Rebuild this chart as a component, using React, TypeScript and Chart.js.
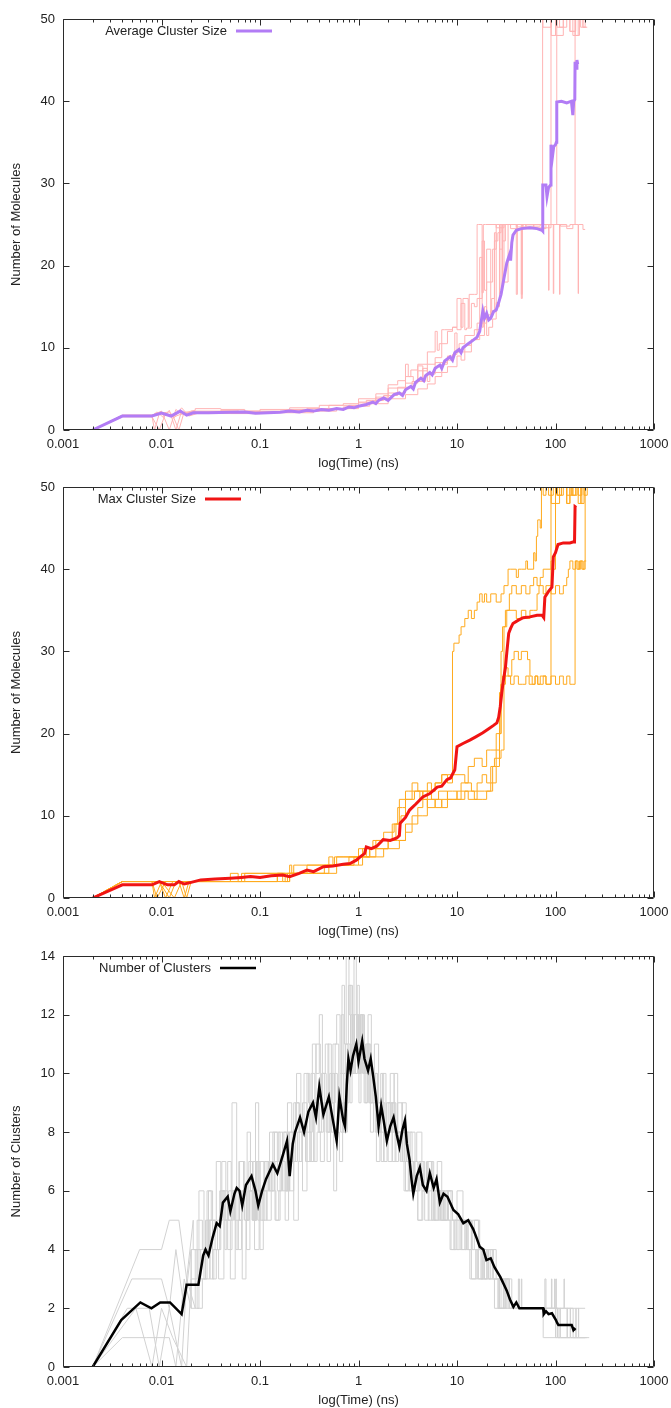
import React, { useEffect, useRef } from "react";
import { Chart, registerables } from "chart.js";

Chart.register(...registerables);

const FONT = "'Liberation Sans', Arial, sans-serif";

// ---------- axes ----------
const xTickValues = [0.001, 0.01, 0.1, 1, 10, 100, 1000];
const xTickLabels = ["0.001", "0.01", "0.1", "1", "10", "100", "1000"];
const sizeTicks = [0, 10, 20, 30, 40, 50];
const clusterTicks = [0, 2, 4, 6, 8, 10, 12, 14];

// ---------- panel 1 : average cluster size ----------
const avgSizeMean = [
  [0.002, 0], [0.004, 1.7], [0.008, 1.7], [0.01, 2.05], [0.0125, 1.7], [0.0155, 2.3], [0.018, 1.8], [0.021, 2.1],
  [0.03, 2.1], [0.05, 2.15], [0.07, 2.2], [0.09, 2.05], [0.12, 2.1], [0.16, 2.15], [0.2, 2.3], [0.25, 2.2],
  [0.3, 2.4], [0.35, 2.3], [0.42, 2.5], [0.5, 2.4], [0.6, 2.6], [0.7, 2.5], [0.8, 2.8], [0.9, 2.7], [1.0, 2.9],
  [1.2, 3.1], [1.4, 3.4], [1.5, 3.2], [1.6, 3.6], [1.8, 3.9], [2.0, 3.6], [2.3, 4.3], [2.6, 4.5], [2.8, 4.2],
  [3.0, 4.9], [3.4, 5.3], [3.6, 5.0], [3.8, 5.8], [4.3, 6.3], [4.6, 6.0], [4.8, 6.6], [5.3, 7.0], [5.6, 6.7],
  [6.0, 7.5], [6.7, 7.9], [7.0, 7.5], [7.5, 8.4], [8.5, 8.9], [9.0, 8.5], [9.5, 9.4], [10.5, 9.8], [11, 9.4],
  [11.5, 10.0], [13, 10.5], [14.5, 10.9], [16, 11.3], [17, 12.0], [17.7, 13.4], [18.3, 14.5], [19, 13.6],
  [20, 14.2], [21, 13.4], [22, 13.6], [23.5, 14.4], [25, 14.6], [26.5, 15.5], [28, 16.5], [30, 18.5], [32, 20.3],
  [33, 20.8], [34.5, 21.5], [35, 20.6], [36, 22.8], [37, 23.7], [40, 24.3], [45, 24.5], [55, 24.6], [65, 24.5],
  [73, 24.3], [74, 24.2], [74.5, 29.8], [80, 29.8], [82, 28.4], [85, 29.5], [89, 29.8], [90, 34.7], [93, 33.2],
  [96, 34.5], [100, 34.7], [102, 35], [103, 39.9], [115, 40], [130, 39.8], [145, 40], [150, 38.3], [153, 40],
  [157, 40.2], [158, 44.8], [162, 44], [165, 45], [168, 44.5],
];
const avgSizeRun1 = [
  [0.002, 0], [0.004, 1.8], [0.008, 1.8], [0.01, 2.3], [0.012, 0], [0.014, 2.5], [0.016, 1.9], [0.02, 2.2],
  [0.04, 2.2], [0.06, 2.4], [0.1, 2.3], [0.2, 2.5], [0.4, 2.7], [0.7, 3.0], [1, 3.2], [1.5, 3.8], [2, 4.4],
  [2.5, 5.5], [3, 6.0], [3.2, 8], [3.4, 6.5], [4, 7.3], [5, 8], [6, 9.5], [6.3, 12], [6.6, 9.7], [8, 10.5],
  [9, 12], [10, 12.5], [11, 16], [11.5, 12.5], [13, 16], [13.3, 12.5], [15, 16.5], [16, 16.5], [16.5, 25],
  [18, 25], [18.5, 16.7], [19.5, 25], [25, 25], [30, 24.6], [40, 25], [50, 24.7], [60, 25], [74, 25], [74.5, 50],
  [90, 49], [100, 50], [120, 48], [140, 50], [160, 48.5], [180, 50], [200, 49], [210, 50],
];
const avgSizeRun2 = [
  [0.002, 0], [0.004, 1.6], [0.008, 1.6], [0.0095, 0], [0.011, 2.0], [0.0135, 1.5], [0.016, 2.7], [0.018, 2.0],
  [0.022, 2.3], [0.05, 2.1], [0.1, 2.0], [0.2, 2.1], [0.4, 2.3], [0.8, 2.6], [1.2, 3.0], [1.8, 3.6], [2.5, 4.2],
  [3.5, 5.2], [4.5, 5.9], [5, 7.5], [5.3, 5.9], [7, 7], [8, 8], [9, 8.5], [10, 9.2], [12, 9.5], [14, 10.3],
  [17, 11], [19, 11.5], [20, 15], [21, 11.5], [23, 12.5], [25, 13.5], [27, 15.5], [28, 25], [29, 17], [30, 25],
  [33, 18], [34, 25], [45, 25], [46, 16.5], [47, 25], [60, 24.5], [75, 25], [90, 25], [90.5, 50], [100, 48],
  [110, 50], [130, 49], [150, 50], [170, 48], [190, 50], [205, 49],
];
const avgSizeRun3 = [
  [0.002, 0], [0.004, 1.8], [0.008, 1.8], [0.01, 2.1], [0.013, 1.8], [0.015, 0], [0.017, 2.2], [0.02, 2.1],
  [0.05, 2.3], [0.1, 2.2], [0.2, 2.2], [0.3, 2.5], [0.5, 2.6], [0.8, 3.0], [1, 3.0], [1.5, 3.3], [2, 4.0],
  [3, 4.5], [4, 5.7], [4.5, 7.8], [4.8, 5.9], [6, 6.8], [8, 8.2], [9.5, 9.0], [10, 11.8], [10.5, 9.5], [12, 10.5],
  [15, 11.5], [17, 12.2], [18, 21], [18.5, 12.5], [20, 13.5], [22, 22], [22.5, 14], [24, 16], [26, 23], [28, 24],
  [32, 25], [50, 25], [70, 24.8], [85, 25], [86, 17], [87, 25], [103, 25], [103.5, 50], [120, 49], [140, 50],
  [160, 48.5], [180, 50], [195, 50],
];
const avgSizeRun4 = [
  [0.002, 0], [0.004, 1.7], [0.008, 1.7], [0.009, 2.2], [0.0105, 1.5], [0.012, 2.4], [0.014, 0], [0.016, 2.3],
  [0.019, 1.7], [0.023, 2.0], [0.05, 2.0], [0.1, 2.0], [0.2, 2.2], [0.35, 2.1], [0.6, 2.3], [1, 2.6], [1.3, 2.9],
  [2, 3.2], [3, 3.8], [4, 4.3], [5, 5.0], [6, 5.6], [7, 6.5], [8, 7.0], [10, 7.7], [11, 9], [12, 8.5], [14, 9.5],
  [16, 11], [20, 13], [22, 14], [24, 14.5], [25, 24], [27, 15], [29, 22], [31, 23], [35, 25], [45, 24.5],
  [46, 16], [47, 25], [60, 25], [90, 24.6], [110, 25], [111, 16.5], [112, 25], [140, 24.8], [158, 25],
  [158.5, 50], [175, 48], [190, 50], [210, 49],
];
const avgSizeRun5 = [
  [0.002, 0], [0.004, 1.7], [0.008, 1.7], [0.0085, 0], [0.0095, 2.0], [0.012, 2.2], [0.0135, 1.6], [0.017, 2.1],
  [0.022, 2.4], [0.04, 2.6], [0.07, 2.5], [0.1, 2.3], [0.2, 2.3], [0.4, 2.4], [0.7, 2.6], [1, 2.8], [1.5, 3.4],
  [2, 3.8], [3, 5.1], [3.6, 6.5], [4, 5.9], [5, 7.2], [6, 8.0], [7, 8.8], [7.5, 12.2], [9, 12.2], [10, 12.5],
  [11, 12.2], [12, 15.4], [12.5, 12.2], [14, 12.4], [15, 15.4], [16, 15], [18, 16], [19, 23], [20, 17], [23, 18],
  [25, 22], [27, 25], [40, 25], [41, 16.5], [42, 25], [60, 25], [80, 24.5], [95, 25], [96, 16.6], [97, 25],
  [130, 25], [150, 24.5], [170, 25], [171, 16.6], [172, 25], [190, 25], [200, 24.4],
];

// ---------- panel 2 : max cluster size ----------
const maxSizeMean = [
  [0.002, 0], [0.004, 1.6], [0.008, 1.6], [0.0095, 2.0], [0.0115, 1.6], [0.0135, 1.6], [0.015, 2.0], [0.017, 1.7],
  [0.02, 1.9], [0.025, 2.2], [0.035, 2.3], [0.05, 2.4], [0.065, 2.5], [0.08, 2.6], [0.1, 2.5], [0.13, 2.7],
  [0.17, 2.8], [0.2, 2.6], [0.25, 3.0], [0.3, 3.4], [0.35, 3.2], [0.44, 3.8], [0.55, 3.9], [0.7, 4.1], [0.82, 4.2],
  [0.95, 4.6], [1.04, 5.0], [1.15, 5.4], [1.2, 6.2], [1.35, 6.0], [1.53, 6.3], [1.78, 7.1], [2.1, 7.0],
  [2.45, 7.3], [2.6, 7.6], [2.65, 9.1], [3.0, 9.8], [3.3, 10.7], [3.8, 11.4], [4.5, 12.3], [5.3, 12.7],
  [6.3, 13.5], [7, 13.6], [7.9, 14.4], [8.6, 14.6], [9.5, 15.6], [10, 18.4], [11.5, 18.8], [13.5, 19.2],
  [15.5, 19.6], [18.3, 20.1], [21, 20.6], [23.5, 21.0], [25.4, 21.3], [26.5, 22], [27.5, 23.3], [28.5, 25],
  [29.6, 26.5], [31, 28], [32, 29.8], [33.5, 32.2], [35, 32.8], [37, 33.4], [42, 33.8], [47, 34.1], [55, 34.2],
  [65, 34.4], [73, 34.4], [76, 34.1], [78, 36.6], [85, 37.3], [92, 37.8], [95, 41.5], [100, 42], [106, 43],
  [120, 43.2], [140, 43.2], [150, 43.3], [156, 43.3], [158, 47.6], [162, 47.5],
];
const maxSizeRun1 = [
  [0.002, 0], [0.004, 2], [0.008, 2], [0.0095, 2], [0.012, 0], [0.014, 2], [0.02, 2], [0.05, 2], [0.06, 3],
  [0.065, 2], [0.08, 3], [0.15, 3], [0.2, 3], [0.21, 4], [0.22, 3], [0.3, 4], [0.5, 4], [0.55, 5], [0.57, 4],
  [0.7, 5], [1, 5], [1.2, 6], [1.3, 5], [1.4, 6], [1.8, 7], [2.2, 7], [2.5, 9], [2.8, 11], [3, 11], [3.2, 13],
  [3.5, 13], [4, 14], [4.2, 13], [5, 13], [5.5, 14], [6, 13], [7, 14], [8, 15], [9, 15], [9.3, 30], [10.5, 31],
  [11, 32], [12, 33], [13, 34], [14, 35], [15, 34], [16, 35], [17, 36], [18, 37], [19, 36], [20, 37], [22, 36],
  [25, 37], [28, 36], [30, 37], [33, 38], [35, 40], [40, 40], [42, 39], [45, 40], [50, 40], [52, 41], [55, 40],
  [60, 40], [62, 42], [64, 41], [66, 44], [70, 46], [72, 45], [75, 50], [80, 49], [85, 50], [95, 49], [100, 50],
  [110, 48], [115, 50], [120, 49], [130, 50], [140, 48], [145, 50], [160, 49], [170, 50], [185, 48], [195, 50],
  [210, 49], [220, 50],
];
const maxSizeRun2 = [
  [0.002, 0], [0.004, 2], [0.008, 2], [0.009, 0], [0.011, 2], [0.02, 2], [0.04, 2], [0.07, 2], [0.1, 2],
  [0.15, 2], [0.18, 3], [0.2, 2], [0.22, 3], [0.4, 3], [0.6, 3], [0.65, 4], [0.8, 4], [1, 5], [1.1, 4],
  [1.5, 5], [2, 6], [2.6, 6], [3, 7], [3.5, 8], [4, 9], [4.5, 10], [5, 10], [6, 12], [7, 11], [8, 12], [9, 13],
  [10, 13], [11, 12], [12, 14], [14, 14], [16, 13], [18, 14], [20, 15], [22, 14], [24, 16], [26, 17], [28, 17],
  [30, 18], [31, 26], [35, 27], [38, 26], [42, 27], [46, 26], [50, 26], [54, 27], [58, 26], [62, 26], [66, 27],
  [70, 26], [75, 26], [80, 27], [85, 26], [90, 26], [90.5, 50], [100, 48], [105, 50], [115, 49], [130, 50],
  [140, 48], [150, 50], [165, 49], [180, 50], [195, 48], [210, 50],
];
const maxSizeRun3 = [
  [0.002, 0], [0.004, 2], [0.008, 2], [0.0095, 2], [0.011, 0], [0.013, 2], [0.016, 2], [0.018, 0], [0.02, 2],
  [0.05, 2], [0.1, 2], [0.15, 2], [0.17, 3], [0.19, 2], [0.2, 3], [0.35, 3], [0.5, 3], [0.6, 4], [0.9, 4],
  [1, 5], [1.3, 5], [1.5, 6], [2, 6], [2.4, 7], [2.7, 9], [3, 10], [3.7, 12], [4.2, 13], [4.5, 12], [5.5, 13],
  [6.5, 12], [8, 13], [10, 12], [11, 13], [13, 13], [16, 12], [19, 13], [23, 13], [25, 16], [27, 18], [28, 25],
  [29, 30], [31, 33], [33, 35], [40, 35], [45, 34], [50, 35], [55, 34], [60, 35], [65, 35], [68, 37], [75, 38],
  [80, 37], [90, 38], [100, 37], [110, 38], [120, 37], [130, 38], [135, 39], [140, 40], [150, 41], [160, 40],
  [170, 41], [180, 40], [190, 41], [200, 40], [205, 50], [215, 50],
];
const maxSizeRun4 = [
  [0.002, 0], [0.004, 2], [0.008, 2], [0.01, 2], [0.0135, 0], [0.016, 2], [0.02, 2], [0.03, 2], [0.07, 2],
  [0.1, 3], [0.15, 3], [0.2, 3], [0.3, 3], [0.4, 4], [0.6, 4], [0.8, 5], [1.1, 5], [1.5, 6], [1.8, 7], [2.3, 8],
  [2.6, 9], [3, 12], [3.5, 12], [4.5, 13], [5, 12], [6, 13], [7, 14], [8, 15], [9, 14], [10, 15], [12, 15],
  [13, 14], [15, 16], [18, 17], [20, 16], [22, 18], [25, 18], [28, 20], [30, 26], [32, 33], [34, 35], [36, 37],
  [40, 38], [45, 37], [50, 38], [55, 37], [60, 38], [65, 39], [70, 38], [75, 39], [80, 40], [90, 40], [95, 41],
  [100, 40], [103, 50], [115, 49], [130, 50], [150, 49], [170, 50], [185, 49], [200, 50],
];
const maxSizeRun5 = [
  [0.002, 0], [0.004, 2], [0.008, 2], [0.0085, 0], [0.01, 2], [0.015, 2], [0.017, 0], [0.019, 2], [0.03, 2],
  [0.06, 2], [0.1, 2], [0.17, 2], [0.2, 2], [0.25, 3], [0.3, 3], [0.45, 3], [0.5, 4], [0.7, 4], [1, 4],
  [1.2, 5], [1.8, 5], [2, 6], [2.5, 7], [3, 7], [3.5, 9], [4, 10], [4.5, 11], [5, 12], [6, 11], [7, 12],
  [8, 11], [9, 12], [12, 12], [15, 13], [18, 12], [20, 12], [22, 13], [25, 14], [27, 16], [28, 20], [29, 26],
  [31, 27], [33, 28], [36, 27], [38, 29], [42, 30], [45, 29], [48, 30], [52, 30], [55, 29], [58, 27], [62, 26],
  [66, 27], [70, 26], [80, 27], [90, 26], [100, 27], [110, 26], [120, 27], [130, 26], [140, 27], [150, 26],
  [158, 26], [158.5, 40], [165, 41], [175, 40], [185, 41], [195, 40], [205, 41],
];

// ---------- panel 3 : number of clusters ----------
const clustersMean = [
  [0.002, 0], [0.0039, 1.6], [0.0061, 2.2], [0.0079, 2.0], [0.0097, 2.2], [0.0122, 2.2], [0.016, 1.8],
  [0.018, 2.8], [0.0237, 2.8], [0.0265, 3.8], [0.028, 4.0], [0.03, 3.8], [0.033, 4.4], [0.0363, 4.9],
  [0.039, 4.8], [0.042, 5.6], [0.047, 5.8], [0.05, 5.3], [0.055, 5.9], [0.058, 6.1], [0.062, 6.0], [0.066, 5.5],
  [0.072, 6.2], [0.082, 6.5], [0.09, 6.0], [0.096, 5.5], [0.105, 6.0], [0.115, 6.4], [0.135, 6.9], [0.15, 6.6],
  [0.17, 7.2], [0.188, 7.7], [0.2, 6.5], [0.215, 7.6], [0.227, 8.0], [0.255, 8.5], [0.28, 8.0], [0.31, 8.7],
  [0.345, 9.0], [0.37, 8.5], [0.4, 9.55], [0.44, 8.6], [0.5, 9.2], [0.55, 8.4], [0.6, 7.7], [0.64, 9.2],
  [0.7, 8.4], [0.73, 8.2], [0.76, 9.6], [0.79, 10.5], [0.83, 10.1], [0.88, 10.6], [0.95, 11.0], [1.0, 10.4],
  [1.05, 10.8], [1.09, 11.1], [1.15, 10.5], [1.25, 10.1], [1.33, 10.5], [1.41, 9.9], [1.5, 9.2], [1.6, 8.2],
  [1.7, 8.9], [1.8, 8.4], [1.94, 7.7], [2.1, 8.2], [2.27, 8.5], [2.45, 7.9], [2.6, 7.5], [2.8, 8.1], [2.96, 8.4],
  [3.1, 7.6], [3.3, 7.05], [3.45, 6.4], [3.6, 5.9], [3.9, 6.5], [4.2, 6.8], [4.5, 6.2], [4.9, 6.0], [5.3, 6.6],
  [5.8, 6.1], [6.2, 6.4], [6.7, 5.6], [7.3, 5.9], [8, 5.8], [9.2, 5.35], [10.3, 5.2], [11.6, 4.9], [13, 5.0],
  [14.6, 4.7], [15.8, 4.4], [17, 4.1], [18.5, 4.0], [19.9, 3.64], [22, 3.7], [24, 3.4], [27.5, 3.07], [30, 2.8],
  [32, 2.6], [34.5, 2.3], [37.4, 2.05], [40, 2.2], [43, 2.0], [75, 2.0], [76, 1.8], [80, 1.9], [85, 1.8],
  [92, 1.83], [101, 1.6], [104, 1.5], [107, 1.43], [146, 1.43], [152, 1.26], [155, 1.3], [160, 1.26],
];
const clustersRun1 = [
  [0.002, 0], [0.006, 4], [0.01, 4], [0.012, 5], [0.015, 5], [0.018, 3], [0.021, 5], [0.024, 4], [0.027, 6],
  [0.029, 4], [0.032, 6], [0.036, 5], [0.04, 7], [0.042, 5], [0.047, 6], [0.052, 5], [0.058, 9], [0.061, 6],
  [0.07, 7], [0.075, 5], [0.085, 6], [0.095, 7], [0.1, 5], [0.11, 7], [0.125, 6], [0.14, 8], [0.155, 7],
  [0.17, 8], [0.19, 6], [0.21, 9], [0.235, 8], [0.26, 10], [0.28, 8], [0.31, 10], [0.34, 9], [0.37, 11],
  [0.4, 10], [0.43, 12], [0.46, 10], [0.5, 11], [0.55, 9], [0.6, 11], [0.65, 12], [0.68, 10], [0.72, 13],
  [0.75, 11], [0.8, 14], [0.82, 12], [0.87, 13], [0.9, 11], [0.95, 14], [0.97, 12], [1.02, 13], [1.08, 11],
  [1.15, 12], [1.25, 10], [1.35, 12], [1.45, 10], [1.6, 11], [1.75, 9], [1.9, 10], [2.1, 8], [2.3, 10],
  [2.5, 8], [2.8, 9], [3.1, 7], [3.5, 8], [3.9, 7], [4.4, 8], [5, 6], [5.6, 7], [6.3, 6], [7, 7], [8, 5],
  [9, 6], [10, 5], [11.5, 6], [13, 5], [15, 4], [17, 5], [19, 4], [22, 3], [25, 4], [28, 3], [31, 2], [34, 3],
  [38, 2], [45, 2], [78, 2], [80, 3], [81, 2], [98, 2], [99, 3], [100, 2], [122, 2], [123, 3], [124, 2],
  [200, 2],
];
const clustersRun2 = [
  [0.002, 0], [0.005, 3], [0.01, 3], [0.012, 2], [0.014, 4], [0.017, 2], [0.02, 4], [0.023, 3], [0.026, 5],
  [0.03, 4], [0.033, 6], [0.037, 4], [0.041, 5], [0.045, 7], [0.048, 5], [0.055, 6], [0.062, 5], [0.068, 7],
  [0.074, 6], [0.08, 8], [0.083, 6], [0.092, 5], [0.1, 7], [0.11, 6], [0.125, 7], [0.14, 6], [0.16, 8],
  [0.175, 7], [0.2, 8], [0.22, 6], [0.25, 9], [0.27, 8], [0.3, 9], [0.33, 7], [0.36, 10], [0.39, 9], [0.42, 8],
  [0.45, 10], [0.49, 9], [0.53, 11], [0.57, 8], [0.61, 10], [0.65, 9], [0.7, 10], [0.74, 8], [0.78, 11],
  [0.83, 10], [0.88, 12], [0.93, 10], [1.0, 11], [1.05, 10], [1.12, 12], [1.2, 10], [1.3, 11], [1.4, 9],
  [1.55, 10], [1.7, 8], [1.85, 9], [2.0, 8], [2.2, 9], [2.4, 7], [2.7, 8], [3.0, 7], [3.3, 6], [3.7, 7],
  [4.1, 6], [4.7, 7], [5.2, 5], [5.9, 6], [6.6, 5], [7.5, 6], [8.5, 5], [9.5, 4], [11, 5], [12.5, 4], [14, 5],
  [16, 4], [18, 3], [21, 4], [24, 3], [27, 2], [30, 3], [33, 2], [40, 2], [75, 2], [76, 1], [104, 1],
  [105, 2], [106, 1], [141, 1], [142, 2], [143, 1], [220, 1],
];
const clustersRun3 = [
  [0.002, 0], [0.0045, 2], [0.0075, 2], [0.0095, 0], [0.012, 2], [0.016, 0], [0.018, 3], [0.022, 2],
  [0.025, 4], [0.028, 3], [0.031, 5], [0.034, 3], [0.038, 4], [0.043, 3], [0.047, 5], [0.052, 4], [0.057, 6],
  [0.06, 4], [0.066, 5], [0.072, 3], [0.078, 5], [0.088, 6], [0.098, 4], [0.105, 6], [0.118, 5], [0.13, 7],
  [0.145, 6], [0.16, 5], [0.18, 7], [0.2, 6], [0.22, 8], [0.24, 7], [0.27, 8], [0.3, 6], [0.33, 8], [0.36, 7],
  [0.4, 9], [0.44, 8], [0.48, 9], [0.52, 7], [0.56, 9], [0.6, 6], [0.64, 8], [0.69, 7], [0.73, 9], [0.77, 8],
  [0.82, 10], [0.86, 9], [0.92, 11], [0.98, 10], [1.03, 12], [1.07, 10], [1.14, 11], [1.22, 9], [1.32, 10],
  [1.42, 8], [1.52, 9], [1.65, 7], [1.8, 8], [1.95, 7], [2.15, 8], [2.35, 9], [2.55, 7], [2.9, 8], [3.2, 6],
  [3.6, 7], [4, 6], [4.5, 5], [5.1, 6], [5.7, 5], [6.5, 6], [7.3, 5], [8.2, 6], [9.3, 5], [10.5, 4], [12, 5],
  [13.5, 4], [15.5, 3], [17.5, 4], [20, 3], [23, 4], [26, 3], [29, 2], [32, 2], [36, 3], [37, 2], [100, 2],
  [101, 1], [111, 1], [112, 2], [113, 1], [161, 1], [162, 2], [163, 1], [200, 1],
];
const clustersRun4 = [
  [0.002, 0], [0.004, 1], [0.007, 1], [0.012, 1], [0.014, 0], [0.017, 3], [0.02, 2], [0.023, 4], [0.026, 2],
  [0.029, 3], [0.033, 5], [0.036, 3], [0.04, 4], [0.044, 6], [0.046, 4], [0.05, 5], [0.056, 3], [0.062, 6],
  [0.067, 5], [0.073, 6], [0.079, 4], [0.086, 6], [0.093, 5], [0.1, 6], [0.108, 4], [0.117, 6], [0.13, 5],
  [0.142, 7], [0.155, 5], [0.17, 6], [0.185, 8], [0.2, 6], [0.22, 7], [0.245, 5], [0.265, 7], [0.29, 8],
  [0.32, 7], [0.35, 9], [0.38, 7], [0.41, 8], [0.45, 7], [0.49, 9], [0.53, 8], [0.57, 10], [0.61, 8],
  [0.66, 9], [0.71, 8], [0.76, 10], [0.8, 9], [0.85, 11], [0.9, 10], [0.96, 12], [1.01, 11], [1.06, 9],
  [1.1, 11], [1.18, 10], [1.27, 11], [1.37, 9], [1.48, 10], [1.58, 8], [1.7, 9], [1.82, 7], [2.0, 8], [2.2, 7],
  [2.4, 9], [2.65, 8], [2.95, 7], [3.25, 8], [3.6, 6], [4, 7], [4.4, 5], [4.9, 6], [5.5, 7], [6.1, 5],
  [6.8, 6], [7.7, 5], [8.7, 6], [9.8, 4], [11, 5], [12.3, 4], [14, 5], [16, 3], [18, 4], [20.5, 3],
  [23.5, 4], [26.5, 3], [29.5, 2], [33, 3], [35, 2], [45, 2], [45.5, 3], [46, 2], [91, 2], [92, 3], [93, 2],
  [106, 2], [107, 1], [131, 1], [132, 2], [133, 1], [210, 1],
];
const clustersRun5 = [
  [0.002, 0], [0.0055, 2], [0.008, 0], [0.01, 2], [0.013, 1], [0.018, 0], [0.02, 3], [0.024, 2], [0.027, 4],
  [0.031, 3], [0.035, 5], [0.039, 4], [0.043, 6], [0.047, 5], [0.051, 7], [0.054, 5], [0.06, 6], [0.065, 4],
  [0.07, 6], [0.077, 5], [0.084, 7], [0.09, 5], [0.097, 9], [0.1, 6], [0.112, 5], [0.122, 7], [0.135, 6],
  [0.15, 8], [0.165, 6], [0.18, 7], [0.195, 5], [0.212, 8], [0.23, 7], [0.25, 9], [0.27, 7], [0.3, 8],
  [0.32, 10], [0.34, 8], [0.37, 9], [0.41, 11], [0.43, 9], [0.47, 10], [0.51, 8], [0.54, 10], [0.58, 9],
  [0.63, 11], [0.67, 9], [0.71, 12], [0.74, 10], [0.79, 11], [0.84, 13], [0.86, 10], [0.91, 12], [0.96, 11],
  [1.0, 12], [1.04, 10], [1.1, 12], [1.17, 11], [1.24, 9], [1.33, 11], [1.44, 9], [1.56, 10], [1.68, 8],
  [1.8, 10], [1.92, 8], [2.1, 9], [2.3, 8], [2.5, 10], [2.75, 8], [3.05, 9], [3.35, 7], [3.75, 8], [4.2, 6],
  [4.6, 7], [5.1, 6], [5.8, 7], [6.4, 5], [7.2, 6], [8, 5], [9, 6], [10, 5], [11.2, 4], [12.7, 5], [14.3, 4],
  [16.5, 5], [18.5, 3], [21, 4], [24, 3], [27, 3], [30, 2], [34, 3], [36, 2], [42, 2], [43, 3], [44, 2],
  [101, 2], [102, 3], [103, 2], [151, 2], [152, 1], [171, 1], [172, 2], [173, 1], [200, 1],
];

// ---------- helpers ----------
const STEP_FROM = 0.02; // before this time the frames are sparse (straight segments); afterwards step-like
const pts = (a: number[][]) => a.map(([x, y]) => ({ x, y }));

const gnuplotPlugin = {
  id: "gnuplot",
  afterDatasetsDraw(chart: any, _args: any, opts: any) {
    const { ctx, chartArea, scales } = chart;
    const xs = scales.x;
    const ys = scales.y;
    const L = Math.round(chartArea.left) + 0.5;
    const R = Math.round(chartArea.right) - 0.5;
    const T = Math.round(chartArea.top) + 0.5;
    const B = Math.round(chartArea.bottom) - 0.5;
    ctx.save();
    ctx.strokeStyle = "#2b2b2b";
    ctx.lineWidth = 1;
    ctx.beginPath();
    ctx.rect(L, T, R - L, B - T);
    for (let d = -3; d <= 3; d++) {
      for (let m = 1; m <= 9; m++) {
        const v = m * Math.pow(10, d);
        if (v > 1000.0001) break;
        const px = Math.round(xs.getPixelForValue(v)) + 0.5;
        const len = m === 1 ? 6 : 3;
        ctx.moveTo(px, B);
        ctx.lineTo(px, B - len);
        ctx.moveTo(px, T);
        ctx.lineTo(px, T + len);
      }
    }
    ys.ticks.forEach((t: any) => {
      const py = Math.round(ys.getPixelForValue(t.value)) + 0.5;
      ctx.moveTo(L, py);
      ctx.lineTo(L + 6, py);
      ctx.moveTo(R, py);
      ctx.lineTo(R - 6, py);
    });
    ctx.stroke();

    // key
    const ky = chartArea.top + 12;
    ctx.font = `13px ${FONT}`;
    ctx.fillStyle = "#222";
    ctx.textAlign = "right";
    ctx.textBaseline = "middle";
    ctx.fillText(opts.text, opts.textRight, ky);
    ctx.strokeStyle = opts.color;
    ctx.lineWidth = opts.width;
    ctx.beginPath();
    ctx.moveTo(opts.textRight + 9, ky);
    ctx.lineTo(opts.textRight + 45, ky);
    ctx.stroke();
    ctx.restore();
  },
};

type PanelSpec = {
  mean: number[][];
  meanColor: string;
  meanWidth: number;
  runs: number[][][];
  runColor: string;
  yMax: number;
  yTicks: number[];
  yTitle: string;
  keyText: string;
  keyRight: number;
};

function runDatasets(run: number[][], color: string, i: number) {
  let k = run.findIndex((p) => p[0] >= STEP_FROM);
  if (k < 0) k = run.length - 1;
  const base = { showLine: true, borderColor: color, borderWidth: 1, pointRadius: 0, tension: 0 };
  return [
    { ...base, label: "run" + (i + 1) + "a", data: pts(run.slice(0, k + 1)) },
    { ...base, label: "run" + (i + 1) + "b", data: pts(run.slice(k)), stepped: "after" },
  ];
}

const CANVAS_H = 476;

function makeConfig(p: PanelSpec): any {
  const font = { family: FONT, size: 13 };
  return {
    type: "scatter",
    data: {
      datasets: [
        {
          label: p.keyText,
          data: pts(p.mean),
          showLine: true,
          borderColor: p.meanColor,
          borderWidth: p.meanWidth,
          pointRadius: 0,
          tension: 0,
        },
        ...p.runs.flatMap((r, i) => runDatasets(r, p.runColor, i)),
      ],
    },
    options: {
      animation: false,
      responsive: false,
      maintainAspectRatio: false,
      events: [],
      layout: { padding: { top: 19, right: 17, left: 0, bottom: 0 } },
      plugins: {
        legend: { display: false },
        tooltip: { enabled: false },
        gnuplot: { text: p.keyText, textRight: p.keyRight, color: p.meanColor, width: p.meanWidth },
      },
      scales: {
        x: {
          type: "logarithmic",
          min: 0.001,
          max: 1000,
          afterBuildTicks: (s: any) => {
            s.ticks = xTickValues.map((v) => ({ value: v }));
          },
          afterFit: (s: any) => {
            s.height = CANVAS_H - 430;
          },
          grid: { display: false, drawTicks: true, tickLength: 5 },
          border: { display: false },
          ticks: {
            autoSkip: false,
            maxRotation: 0,
            padding: 2,
            font,
            color: "#222",
            callback: (_v: any, i: number) => xTickLabels[i],
          },
          title: {
            display: true,
            text: "log(Time) (ns)",
            font,
            color: "#222",
            padding: { top: 0, bottom: CANVAS_H - 463 - 7.8 },
          },
        },
        y: {
          type: "linear",
          min: 0,
          max: p.yMax,
          afterBuildTicks: (s: any) => {
            s.ticks = p.yTicks.map((v) => ({ value: v }));
          },
          afterFit: (s: any) => {
            s.width = 63;
          },
          grid: { display: false, drawTicks: false },
          border: { display: false },
          ticks: { padding: 8, font, color: "#222", callback: (v: any) => String(v) },
          title: {
            display: true,
            text: p.yTitle,
            font,
            color: "#222",
            padding: { top: 9, bottom: 0 },
          },
        },
      },
    },
    plugins: [gnuplotPlugin],
  };
}

const panels: PanelSpec[] = [
  {
    mean: avgSizeMean,
    meanColor: "#b27cf5",
    meanWidth: 3,
    runs: [avgSizeRun1, avgSizeRun2, avgSizeRun3, avgSizeRun4, avgSizeRun5],
    runColor: "#ffb4b4",
    yMax: 50,
    yTicks: sizeTicks,
    yTitle: "Number of Molecules",
    keyText: "Average Cluster Size",
    keyRight: 227,
  },
  {
    mean: maxSizeMean,
    meanColor: "#f01414",
    meanWidth: 3,
    runs: [maxSizeRun1, maxSizeRun2, maxSizeRun3, maxSizeRun4, maxSizeRun5],
    runColor: "#ffaa1e",
    yMax: 50,
    yTicks: sizeTicks,
    yTitle: "Number of Molecules",
    keyText: "Max Cluster Size",
    keyRight: 196,
  },
  {
    mean: clustersMean,
    meanColor: "#000000",
    meanWidth: 2.5,
    runs: [clustersRun1, clustersRun2, clustersRun3, clustersRun4, clustersRun5],
    runColor: "#d2d2d2",
    yMax: 14,
    yTicks: clusterTicks,
    yTitle: "Number of Clusters",
    keyText: "Number of Clusters",
    keyRight: 211,
  },
];

const panelTops = [0, 468, 937];

export default function App() {
  const r0 = useRef<HTMLCanvasElement>(null);
  const r1 = useRef<HTMLCanvasElement>(null);
  const r2 = useRef<HTMLCanvasElement>(null);
  const refs = [r0, r1, r2];

  useEffect(() => {
    document.body.style.margin = "0";
    const charts = refs.map((r, i) => new Chart(r.current as HTMLCanvasElement, makeConfig(panels[i])));
    return () => charts.forEach((c) => c.destroy());
  }, []);

  return (
    <div style={{ position: "relative", width: 671, height: 1408, overflow: "hidden", background: "#fff" }}>
      {refs.map((r, i) => (
        <canvas
          key={i}
          ref={r}
          width={671}
          height={CANVAS_H}
          style={{ position: "absolute", left: 0, top: panelTops[i], width: 671, height: CANVAS_H, display: "block" }}
        />
      ))}
    </div>
  );
}
